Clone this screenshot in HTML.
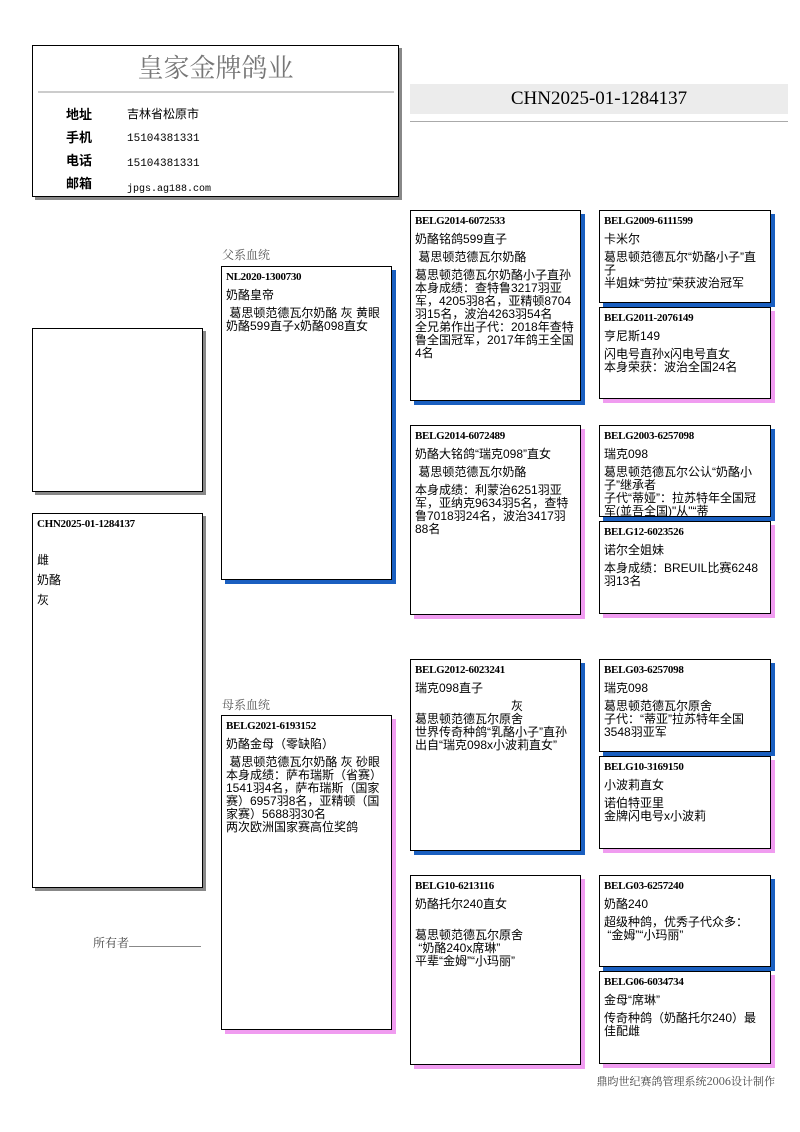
<!DOCTYPE html>
<html><head><meta charset="utf-8"><style>
body{margin:0;width:800px;height:1132px;background:#fff;position:relative;font-family:"Liberation Sans","Noto Sans CJK SC",sans-serif;overflow:hidden}
.a{position:absolute}
.b{position:absolute;border:1px solid #000;background:#fff;box-sizing:border-box;padding:3px 4px;font-size:12px;line-height:13px;color:#000;overflow:hidden}
.bl{box-shadow:4px 4px 0 #1a5fc0}
.pk{box-shadow:4px 4px 0 #f09cf0}
.gy{box-shadow:3px 3px 0 #888}
.id{font-family:"Liberation Serif","Noto Serif CJK SC",serif;font-weight:bold;font-size:11px;line-height:14px;letter-spacing:-0.3px}
.b p{margin:5px 0 0}
</style></head><body>
<div class="b gy" style="left:32px;top:45px;width:367px;height:152px;padding:0">
<div class="a" style="left:0;width:365px;top:4px;text-align:center;font-family:'Noto Serif CJK SC',serif;font-size:26px;line-height:34px;color:#777">皇家金牌鸽业</div>
<div class="a" style="left:5px;top:45px;width:356px;height:2px;background:#ccc"></div>
<div class="a" style="left:33px;top:57px;font-weight:bold;font-size:13px;line-height:23px">地址<br>手机<br>电话<br>邮箱</div>
<div class="a" style="left:94px;top:57px;font-size:12px;line-height:23px">吉林省松原市<br><span style="font-family:'Liberation Mono',monospace;font-size:11px">15104381331</span><br><span style="font-family:'Liberation Mono',monospace;font-size:11px">15104381331</span><br><span style="font-family:'Liberation Mono',monospace;font-size:10px">jpgs.ag188.com</span></div>
</div>
<div class="a" style="left:410px;top:84px;width:378px;height:30px;background:#ececec;text-align:center;font-family:'Liberation Serif',serif;font-size:19px;line-height:30px">CHN2025-01-1284137</div>
<div class="a" style="left:410px;top:121px;width:378px;height:1px;background:#aaa"></div>

<div class="b gy" style="left:32px;top:328px;width:171px;height:164px"></div>
<div class="b gy" style="left:32px;top:513px;width:171px;height:375px"><div class="id">CHN2025-01-1284137</div><p style="margin-top:19px;line-height:20px">雌<br>奶酪<br>灰</p></div>
<div class="a" style="left:93px;top:934px;font-size:12px;color:#444;font-family:'Noto Serif CJK SC',serif">所有者<span style="display:inline-block;width:72px;border-bottom:1px solid #888;height:12px"></span></div>

<div class="a" style="left:222px;top:246px;font-size:12px;color:#555;font-family:'Noto Serif CJK SC',serif">父系血统</div>
<div class="b bl" style="left:221px;top:266px;width:171px;height:314px"><div class="id">NL2020-1300730</div><p>奶酪皇帝</p><p>&nbsp;葛思顿范德瓦尔奶酪 灰 黄眼<br>奶酪599直子x奶酪098直女</p></div>
<div class="a" style="left:222px;top:696px;font-size:12px;color:#555;font-family:'Noto Serif CJK SC',serif">母系血统</div>
<div class="b pk" style="left:221px;top:715px;width:171px;height:315px"><div class="id">BELG2021-6193152</div><p>奶酪金母（零缺陷）</p><p>&nbsp;葛思顿范德瓦尔奶酪 灰 砂眼<br>本身成绩：萨布瑞斯（省赛）1541羽4名，萨布瑞斯（国家赛）6957羽8名，亚精顿（国家赛）5688羽30名<br>两次欧洲国家赛高位奖鸽</p></div>

<div class="b bl" style="left:410px;top:210px;width:171px;height:191px"><div class="id">BELG2014-6072533</div><p>奶酪铭鸽599直子</p><p>&nbsp;葛思顿范德瓦尔奶酪</p><p>葛思顿范德瓦尔奶酪小子直孙<br>本身成绩：查特鲁3217羽亚军，4205羽8名，亚精顿8704羽15名，波治4263羽54名<br>全兄弟作出子代：2018年查特鲁全国冠军，2017年鸽王全国4名</p></div>
<div class="b pk" style="left:410px;top:425px;width:171px;height:190px"><div class="id">BELG2014-6072489</div><p>奶酪大铭鸽“瑞克098”直女</p><p>&nbsp;葛思顿范德瓦尔奶酪</p><p>本身成绩：利蒙治6251羽亚军，亚纳克9634羽5名，查特鲁7018羽24名，波治3417羽88名</p></div>
<div class="b bl" style="left:410px;top:659px;width:171px;height:192px"><div class="id">BELG2012-6023241</div><p>瑞克098直子</p><p style="padding-left:96px">灰</p><p style="margin-top:0">葛思顿范德瓦尔原舍<br>世界传奇种鸽“乳酪小子”直孙<br>出自“瑞克098x小波莉直女”</p></div>
<div class="b pk" style="left:410px;top:875px;width:171px;height:190px"><div class="id">BELG10-6213116</div><p>奶酪托尔240直女</p><p style="margin-top:18px">葛思顿范德瓦尔原舍<br>&nbsp;“奶酪240x席琳”<br>平辈“金姆”“小玛丽”</p></div>

<div class="b bl" style="left:599px;top:210px;width:172px;height:93px"><div class="id">BELG2009-6111599</div><p>卡米尔</p><p>葛思顿范德瓦尔“奶酪小子”直子<br>半姐妹“劳拉”荣获波治冠军</p></div>
<div class="b pk" style="left:599px;top:307px;width:172px;height:92px"><div class="id">BELG2011-2076149</div><p>亨尼斯149</p><p>闪电号直孙x闪电号直女<br>本身荣获：波治全国24名</p></div>
<div class="b bl" style="left:599px;top:425px;width:172px;height:92px"><div class="id">BELG2003-6257098</div><p>瑞克098</p><p>葛思顿范德瓦尔公认“奶酪小子”继承者<br>子代“蒂娅”：拉苏特年全国冠军(並吾全国)"从"“蒂</p></div>
<div class="b pk" style="left:599px;top:521px;width:172px;height:93px"><div class="id">BELG12-6023526</div><p>诺尔全姐妹</p><p>本身成绩：BREUIL比赛6248羽13名</p></div>
<div class="b bl" style="left:599px;top:659px;width:172px;height:93px"><div class="id">BELG03-6257098</div><p>瑞克098</p><p>葛思顿范德瓦尔原舍<br>子代：“蒂亚”拉苏特年全国3548羽亚军</p></div>
<div class="b pk" style="left:599px;top:756px;width:172px;height:93px"><div class="id">BELG10-3169150</div><p>小波莉直女</p><p>诺伯特亚里<br>金牌闪电号x小波莉</p></div>
<div class="b bl" style="left:599px;top:875px;width:172px;height:92px"><div class="id">BELG03-6257240</div><p>奶酪240</p><p>超级种鸽，优秀子代众多：<br>&nbsp;“金姆”“小玛丽”</p></div>
<div class="b pk" style="left:599px;top:971px;width:172px;height:93px"><div class="id">BELG06-6034734</div><p>金母“席琳”</p><p>传奇种鸽（奶酪托尔240）最佳配雌</p></div>

<div class="a" style="right:25px;top:1073px;font-size:11px;color:#444;font-family:'Noto Serif CJK SC',serif">鼎昀世纪赛鸽管理系统2006设计制作</div>
</body></html>
